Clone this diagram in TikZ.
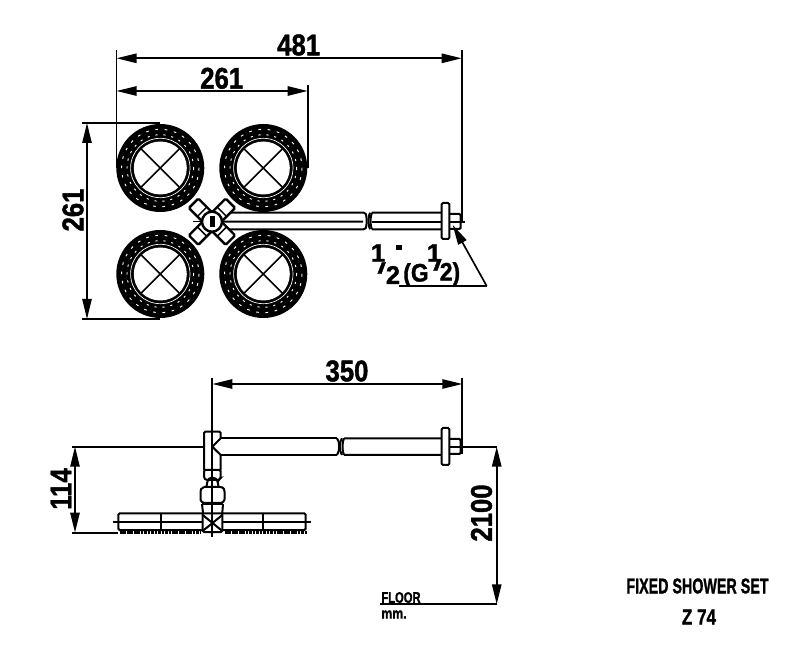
\documentclass[tikz,border=0pt]{standalone}
\usepackage{fontspec}
\setmainfont{Liberation Sans}[BoldFeatures={FakeBold=1.5}]
\usetikzlibrary{arrows.meta}
\tikzset{
	dimline/.style={line width=1.25pt,{Triangle[length=15pt,width=7pt]}-{Triangle[length=15pt,width=7pt]}},
	oneend/.style={line width=1.25pt,-{Triangle[length=15pt,width=7pt]}},
	extline/.style={line width=1.25pt},
	part/.style={line width=1.5pt,rounded corners=1pt},
	dimtext/.style={font=\bfseries\fontsize{22.4}{23}\selectfont,inner sep=0pt},
	fractext/.style={font=\bfseries\fontsize{19}{19}\selectfont,inner sep=0pt},
	smalltext/.style={font=\bfseries\fontsize{11.5}{12}\selectfont,inner sep=0pt},
	titletext/.style={font=\bfseries\fontsize{16}{17}\selectfont,inner sep=0pt}
}
\newcommand{\narrow}[1]{\scalebox{.86}[1]{#1}}
\begin{document}
\begin{tikzpicture}[x=0.75pt,y=-0.75pt]
	\useasboundingbox (0,0) rectangle (800,666);
	% top view, four spray heads
	\foreach \cx/\cy in {160.3/168,263.3/168,160.3/274,263.3/274}{
		\fill[black] (\cx,\cy) circle (44);
		\fill[white] (\cx,\cy) circle (26.5);
		\draw[white,line width=0.5pt] (\cx,\cy) circle (29.7);
		\draw[white,line width=0.7pt,dash pattern=on 2pt off 5pt] (\cx,\cy) circle (38.7);
		\draw[white,line width=0.7pt,dash pattern=on 1.6pt off 4.4pt] (\cx,\cy) circle (33.3);
		\draw[line width=1.25pt] (\cx-19,\cy-19) -- (\cx+19,\cy+19);
		\draw[line width=1.25pt] (\cx-19,\cy+19) -- (\cx+19,\cy-19);
	}
	% top view, pipe
	\draw[part] (222,212.7) -- (365,212.7) .. controls (367,216) and (367,226) .. (365,229.3) -- (222,229.3);
	\draw[part] (219,221.7) -- (363,221.7) (370,212.7) .. controls (368,216) and (368,226) .. (370,229.3);
	\draw[part] (372,212.7) -- (441.7,212.7) (372,229.3) -- (441.7,229.3) (372,212.7) .. controls (370,216) and (370,226) .. (372,229.3);
	\draw[part] (372,221.7) -- (465,221.7);
	\draw[part] (449.3,214) -- (460.7,214) -- (460.7,229) -- (449.3,229);
	\draw[part,fill=white] (441.7,203) rectangle (449.3,239);
	% arms and hub
	\foreach \ang in {45,135,225,315}{
		\draw[line width=1.8pt,rounded corners=1pt,fill=white,rotate around={\ang:(212,221.7)}] (212,215) rectangle (238,228.4);
		\draw[line width=1.1pt,rotate around={\ang:(212,221.7)}] (226,215) -- (226,228.4);
	}
	\draw[line width=1.8pt,fill=white] (212,221.7) circle (10);
	\fill[black] (209.5,216.5) rectangle (214.5,227);
	\draw[line width=1pt] (193,221.7) -- (202,221.7);
	% top view, dimensions
	\draw[extline] (116.5,50) -- (116.5,168);
	\draw[extline] (307.7,85) -- (307.7,168);
	\draw[extline] (461.7,50) -- (461.7,222);
	\draw[extline] (82,123) -- (160,123);
	\draw[extline] (82,319) -- (160,319);
	\draw[dimline] (116.5,58.3) -- (461.7,58.3);
	\draw[dimline] (116.5,91) -- (307.7,91);
	\draw[dimline] (87,123) -- (87,319);
	\node[dimtext] (len481) at (298.7,45) {\narrow{481}};
	\node[dimtext] (len261) at (221.7,78.3) {\narrow{261}};
	\node[dimtext,rotate=90] (hgt261) at (73,210) {\narrow{261}};
	% thread note
	\draw[oneend] (486.7,286) -- (452.7,225);
	\draw[extline] (486.7,286) -- (399,286);
	\node[fractext] (oneA) at (378,253) {1};
	\node[fractext] (barA) at (381.7,268) {\scalebox{1.2}[.6]{/}};
	\node[fractext] (twoA) at (393,275) {2};
	\fill[black] (396,245) rectangle (402,250);
	\node[fractext] (thrdG) at (416,275) {\scalebox{.9}[1]{(G}};
	\node[fractext] (oneB) at (434,253) {1};
	\node[fractext] (barB) at (437.5,265) {\scalebox{1.2}[.6]{/}};
	\node[fractext] (twoB) at (450,274) {\scalebox{.9}[1]{2)}};
	% side view, pipe
	\draw[part] (220.7,438.3) -- (337,438.3) (220.7,455) -- (337,455);
	\draw[part] (337,438.3) .. controls (340,442) and (340,451) .. (337,455);
	\draw[part] (342,438.3) .. controls (339,442) and (339,451) .. (342,455);
	\draw[part] (344,438.3) -- (441.7,438.3) (344,455) -- (441.7,455) (344,438.3) .. controls (342,442) and (342,451) .. (344,455);
	\draw[part] (449.3,439) -- (460.7,439) -- (460.7,454) -- (449.3,454);
	\draw[part,fill=white] (441.7,428) rectangle (449.3,465);
	% side view, fixing and ball joint
	\draw[part] (204,470) -- (204,431.7) -- (220.7,431.7) -- (220.7,438.3) (220.7,455) -- (220.7,470);
	\draw[part] (212.3,446.7) -- (220.7,438.3) (212.3,446.7) -- (220.7,455);
	\draw[part] (204,470) -- (204,478) -- (206,480) -- (219,480) -- (220.7,478) -- (220.7,470) -- cycle;
	\draw[part] (206.5,487) .. controls (207,482) and (208,478) .. (212.3,478) .. controls (217,478) and (218,482) .. (218.5,487);
	\draw[part] (204,487) -- (221,487) .. controls (224,488) and (224.5,490) .. (224.5,493) -- (224.5,498) .. controls (224.5,500) and (224,501) .. (222,503) -- (203,503) .. controls (201,501) and (200.5,500) .. (200.5,498) -- (200.5,493) .. controls (200.5,490) and (201,488) .. (204,487);
	\draw[line width=2.4pt] (202,503.5) -- (223,503.5);
	\draw[part] (202,504) -- (203,513) (223,504) -- (222.3,513);
	\draw[part] (202.7,513) -- (202.7,532) -- (222.3,532) -- (222.3,513) (202.7,513.3) -- (222.3,513.3);
	\draw[part] (202.7,515) -- (222.3,531) (202.7,531) -- (222.3,515);
	% side view, spray head
	\draw[part] (202.3,513.3) -- (118.3,513.3) -- (118.3,530) -- (202.3,530);
	\draw[part] (222.3,513.3) -- (305.7,513.3) -- (305.7,530) -- (222.3,530);
	\draw[part] (113,521.7) -- (202,521.7) (223,521.7) -- (310.7,521.7);
	\draw[part] (160.7,513.3) -- (160.7,530) (263.3,513.3) -- (263.3,530);
	\draw[line width=2pt,dash pattern=on 2pt off 0.6pt] (120,532.7) -- (200,532.7) (225,532.7) -- (307,532.7);
	% side view, dimensions
	\draw[extline] (212.3,378) -- (212.3,537);
	\draw[extline] (462.3,378) -- (462.3,454);
	\draw[extline] (72,446.7) -- (204,446.7);
	\draw[extline] (449.3,446.7) -- (497,446.7);
	\draw[extline] (72,532.7) -- (118,532.7);
	\draw[extline] (380,604.3) -- (497,604.3);
	\draw[dimline] (212.3,384) -- (462.3,384);
	\draw[dimline] (75,446.7) -- (75,532.7);
	\draw[dimline] (496.7,446.7) -- (496.7,604.3);
	\node[dimtext] (len350) at (347,371) {\narrow{350}};
	\node[dimtext,rotate=90] (hgt114) at (61,489) {\narrow{114}};
	\node[dimtext,rotate=90] (hgt2100) at (481.5,513) {\narrow{2100}};
	\node[smalltext] (floorlbl) at (401,597.5) {\scalebox{.73}[1]{FLOOR}};
	\node[smalltext] (mmlbl) at (394,614.5) {\scalebox{.8}[1]{mm.}};
	\node[titletext] (titleA) at (697.5,586) {\scalebox{.67}[1]{FIXED SHOWER SET}};
	\node[titletext] (titleB) at (699,617) {\scalebox{.8}[1]{Z 74}};
\end{tikzpicture}
\end{document}
